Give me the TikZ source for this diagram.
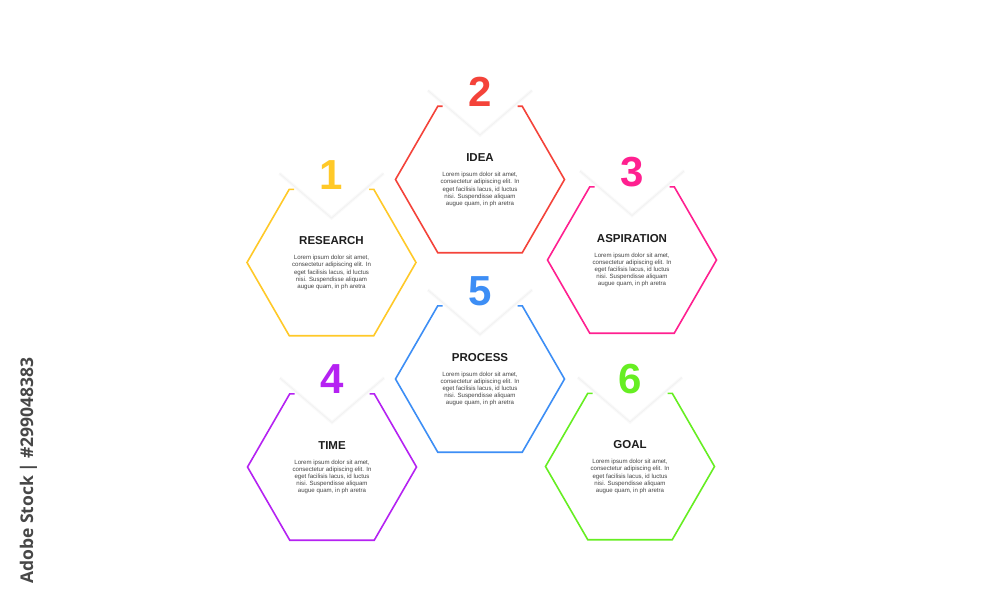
\documentclass[tikz,border=0pt]{standalone}
\usepackage{fontspec}
\setmainfont{Liberation Sans}
\newfontfamily\wmfont{Open Sans}
\definecolor{cyel}{HTML}{FFC928}
\definecolor{cred}{HTML}{F4433A}
\definecolor{cpink}{HTML}{FF2090}
\definecolor{cpurp}{HTML}{B522F2}
\definecolor{cblue}{HTML}{3D8EF5}
\definecolor{cgreen}{HTML}{66EE22}
\definecolor{ctitle}{HTML}{1E1E1E}
\definecolor{cbody}{HTML}{444444}
\tikzset{
 hexline/.style={line width=1.6pt},
 vshade/.style={line width=3pt, draw=black!2.5},
 vline/.style={line width=0.7pt, draw=black!5},
 numlabel/.style={font=\fontsize{42}{42}\selectfont\bfseries, inner sep=0pt},
 titlelabel/.style={font=\fontsize{11.5}{12}\selectfont\bfseries, text=ctitle, inner sep=0pt},
 bodylabel/.style={font=\fontsize{6.1}{7.1}\selectfont, text=cbody, align=center, inner sep=0pt},
}
\newcommand\hexitem[6]{%
 \begin{scope}[shift={(#2,#3)}]
  \draw[vshade] (-52,-89) -- (0,-44.5) -- (52,-89);
  \draw[vline] (-52,-89) -- (0,-44.5) -- (52,-89);
  \draw[hexline, draw=#4] (-37.5,-73.2) -- (-42.25,-73.2) -- (-84.5,0) -- (-42.25,73.2) -- (42.25,73.2) -- (84.5,0) -- (42.25,-73.2) -- (37.5,-73.2);
  \node[numlabel, text=#4] (#1num) at (0,-87.5) {#5};
  \node[titlelabel] (#1title) at (0,-21.5) {#6};
  \node[bodylabel] (#1body) at (0,10) {Lorem ipsum dolor sit amet,\\consectetur adipiscing elit. In\\eget facilisis lacus, id luctus\\nisi. Suspendisse aliquam\\augue quam, in ph aretra};
 \end{scope}}
\begin{document}
\begin{tikzpicture}[x=1pt,y=-1pt]
\fill[white] (0,0) rectangle (1000,599);
\path[use as bounding box] (0,0) rectangle (1000,599);
\hexitem{research}{331.5}{262.5}{cyel}{1}{RESEARCH}
\hexitem{idea}{480}{179.5}{cred}{2}{IDEA}
\hexitem{aspiration}{632}{260}{cpink}{3}{ASPIRATION}
\hexitem{process}{480}{379}{cblue}{5}{PROCESS}
\hexitem{time}{332}{467}{cpurp}{4}{TIME}
\hexitem{goal}{630}{466.5}{cgreen}{6}{GOAL}
\node[rotate=90, anchor=base, inner sep=0pt, font=\wmfont\bfseries\fontsize{17.5}{17.5}\selectfont, text=black!72] (wm) at (33,470.5) {Adobe Stock\hspace{0.22em}|\hspace{0.22em}\#299048383};
\end{tikzpicture}
\end{document}
